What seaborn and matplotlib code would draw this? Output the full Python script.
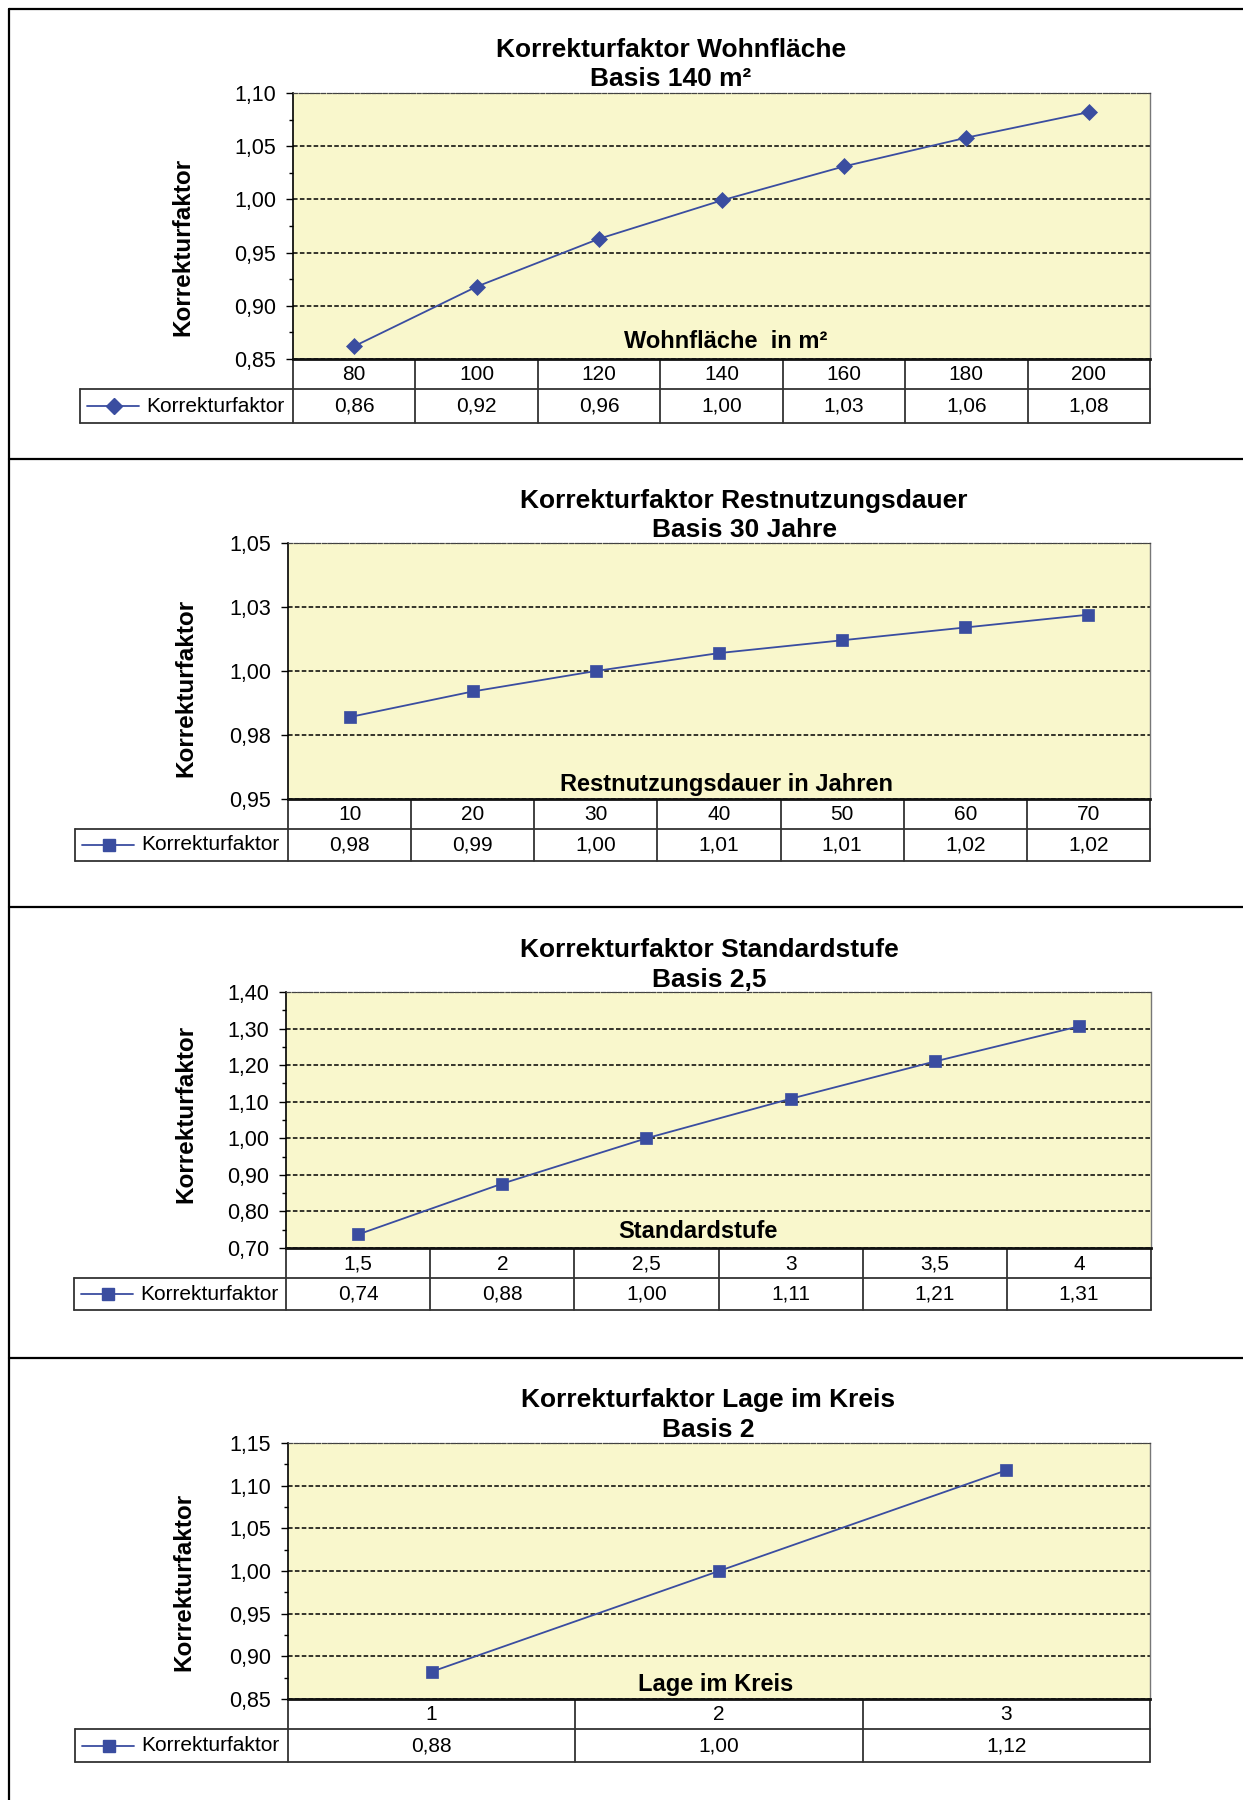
import numpy as np
import pandas as pd
import matplotlib
matplotlib.use("Agg")
import matplotlib.pyplot as plt
import matplotlib.transforms as mtransforms
from matplotlib.lines import Line2D
from matplotlib.ticker import MultipleLocator
import seaborn as sns

# --- data ---
wohn_x = ["80", "100", "120", "140", "160", "180", "200"]
wohn_y = [0.862, 0.918, 0.963, 0.999, 1.031, 1.058, 1.082]
wohn_ticks = [0.85, 0.90, 0.95, 1.00, 1.05, 1.10]
wohn_ticklabels = ["0,85", "0,90", "0,95", "1,00", "1,05", "1,10"]

rnd_x = ["10", "20", "30", "40", "50", "60", "70"]
rnd_y = [0.982, 0.992, 1.000, 1.007, 1.012, 1.017, 1.022]
rnd_ticks = [0.95, 0.975, 1.00, 1.025, 1.05]
rnd_ticklabels = ["0,95", "0,98", "1,00", "1,03", "1,05"]

std_x = ["1,5", "2", "2,5", "3", "3,5", "4"]
std_y = [0.737, 0.876, 1.000, 1.108, 1.210, 1.306]
std_ticks = [0.70, 0.80, 0.90, 1.00, 1.10, 1.20, 1.30, 1.40]
std_ticklabels = ["0,70", "0,80", "0,90", "1,00", "1,10", "1,20", "1,30", "1,40"]

lage_x = ["1", "2", "3"]
lage_y = [0.882, 1.000, 1.118]
lage_ticks = [0.85, 0.90, 0.95, 1.00, 1.05, 1.10, 1.15]
lage_ticklabels = ["0,85", "0,90", "0,95", "1,00", "1,05", "1,10", "1,15"]

titles = ["Korrekturfaktor Wohnfläche", "Korrekturfaktor Restnutzungsdauer",
          "Korrekturfaktor Standardstufe", "Korrekturfaktor Lage im Kreis"]
subtitles = ["Basis 140 m²", "Basis 30 Jahre", "Basis 2,5", "Basis 2"]
xtitles = ["Wohnfläche  in m²", "Restnutzungsdauer in Jahren", "Standardstufe", "Lage im Kreis"]
series_name = "Korrekturfaktor"

BLUE = "#3A4DA0"
PLOT_BG = "#F9F7CC"

sns.set_theme(style="ticks")
plt.rcParams["font.family"] = ["Liberation Sans", "DejaVu Sans"]
plt.rcParams["text.color"] = "black"

W, H = 1243, 1800
fig = plt.figure(figsize=(W / 100, H / 100), dpi=100)


def fx(p):
    return p / W


def fy(p):
    return 1 - p / H


# layout in pixels: plot box (l, t, r, b), table row bottoms, legend cell left,
# title centre/baselines, axis-title centre/baseline, y-label centre
panels = [
    dict(x=wohn_x, y=wohn_y, ticks=wohn_ticks, labels=wohn_ticklabels, minor=0.025, marker="D", ms=8,
         box=(293, 93, 1150, 359), rows=(389, 423), leg=80,
         tx=671, ty=(57, 86), xt=(726, 348), yl=(183, 247)),
    dict(x=rnd_x, y=rnd_y, ticks=rnd_ticks, labels=rnd_ticklabels, minor=None, marker="s", ms=8.5,
         box=(288, 543, 1150, 799), rows=(829, 861), leg=75,
         tx=744, ty=(508, 537), xt=(727, 791), yl=(186, 688)),
    dict(x=std_x, y=std_y, ticks=std_ticks, labels=std_ticklabels, minor=0.05, marker="s", ms=8.5,
         box=(286, 992, 1151, 1248), rows=(1278, 1310), leg=74,
         tx=709, ty=(957, 987), xt=(698, 1238), yl=(186, 1114)),
    dict(x=lage_x, y=lage_y, ticks=lage_ticks, labels=lage_ticklabels, minor=0.025, marker="s", ms=8.5,
         box=(288, 1443, 1150, 1699), rows=(1729, 1762), leg=75,
         tx=708, ty=(1407, 1437), xt=(716, 1691), yl=(184, 1582)),
]

for i, p in enumerate(panels):
    l, t, r, b = p["box"]
    row1, row2 = p["rows"]
    ax = fig.add_axes([fx(l), fy(b), (r - l) / W, (b - t) / H])
    ax.set_facecolor(PLOT_BG)
    n = len(p["x"])
    df = pd.DataFrame({"pos": np.arange(n), "faktor": p["y"]})
    sns.lineplot(data=df, x="pos", y="faktor", ax=ax, color=BLUE, lw=1.3, errorbar=None,
                 marker=p["marker"], markersize=p["ms"], markeredgecolor=BLUE,
                 markerfacecolor=BLUE, markeredgewidth=0.5)
    ax.set_xlim(-0.5, n - 0.5)
    ax.set_ylim(p["ticks"][0], p["ticks"][-1])
    ax.set_yticks(p["ticks"], p["labels"])
    if p["minor"]:
        ax.yaxis.set_minor_locator(MultipleLocator(p["minor"]))
    ax.set_xticks([])
    ax.set_xlabel("")
    ax.set_ylabel("")
    ax.yaxis.grid(True, which="major", color="black", linestyle=(0, (3, 1.5)), lw=1.1)
    ax.tick_params(axis="y", which="major", direction="out", length=5, width=1,
                   labelsize=15.5, pad=7, colors="black")
    ax.tick_params(axis="y", which="minor", direction="out", length=3, width=1, colors="black")
    ax.spines["left"].set(color="black", lw=1.2)
    ax.spines["bottom"].set(color="#111111", lw=2)
    ax.spines["right"].set(color="#777777", lw=1)
    ax.spines["top"].set(color="#444444", lw=0.9, linestyle=(0, (3, 1.5)))
    ax.set_zorder(2)

    # titles
    fig.text(fx(p["tx"]), fy(p["ty"][0]), titles[i], ha="center", va="baseline",
             fontsize=19, fontweight="bold")
    fig.text(fx(p["tx"]), fy(p["ty"][1]), subtitles[i], ha="center", va="baseline",
             fontsize=19, fontweight="bold")
    fig.text(fx(p["xt"][0]), fy(p["xt"][1]), xtitles[i], ha="center", va="baseline",
             fontsize=17, fontweight="bold", zorder=5)
    fig.text(fx(p["yl"][0]), fy(p["yl"][1]), series_name, ha="center", va="center",
             rotation=90, fontsize=17.5, fontweight="bold")

    # data table under the plot
    blend = mtransforms.blended_transform_factory(ax.transData, fig.transFigure)
    lc = "#333333"
    for k in range(n + 1):
        fig.add_artist(Line2D([k - 0.5, k - 0.5], [fy(b), fy(row2)], transform=blend,
                              color=lc, lw=1.3))
    for yy in (row1, row2):
        fig.add_artist(Line2D([fx(p["leg"]), fx(r)], [fy(yy), fy(yy)],
                              transform=fig.transFigure, color=lc, lw=1.3))
    fig.add_artist(Line2D([fx(p["leg"]), fx(p["leg"])], [fy(row1), fy(row2)],
                          transform=fig.transFigure, color=lc, lw=1.3))
    mid1 = (b + row1) / 2 + 1
    mid2 = (row1 + row2) / 2
    for k in range(n):
        fig.text(k, fy(mid1), p["x"][k], transform=blend, ha="center", va="center", fontsize=15)
        fig.text(k, fy(mid2), f"{p['y'][k]:.2f}".replace(".", ","), transform=blend,
                 ha="center", va="center", fontsize=15)

    # legend key in the table
    lg = p["leg"]
    fig.add_artist(Line2D([fx(lg + 7), fx(lg + 59)], [fy(mid2), fy(mid2)],
                          transform=fig.transFigure, color=BLUE, lw=1.3))
    fig.add_artist(Line2D([fx(lg + 34)], [fy(mid2)], transform=fig.transFigure,
                          marker=p["marker"], ms=p["ms"], color=BLUE, lw=0))
    fig.text(fx(lg + 66), fy(mid2), series_name, ha="left", va="center", fontsize=15)

# panel frame
fr = dict(transform=fig.transFigure, color="black", lw=1.6)
fig.add_artist(Line2D([fx(9), fx(9)], [fy(9), fy(1800)], **fr))
for yy in (9, 459, 907, 1358):
    fig.add_artist(Line2D([fx(9), fx(1243)], [fy(yy), fy(yy)], **fr))

fig.savefig("out.png", dpi=100)
